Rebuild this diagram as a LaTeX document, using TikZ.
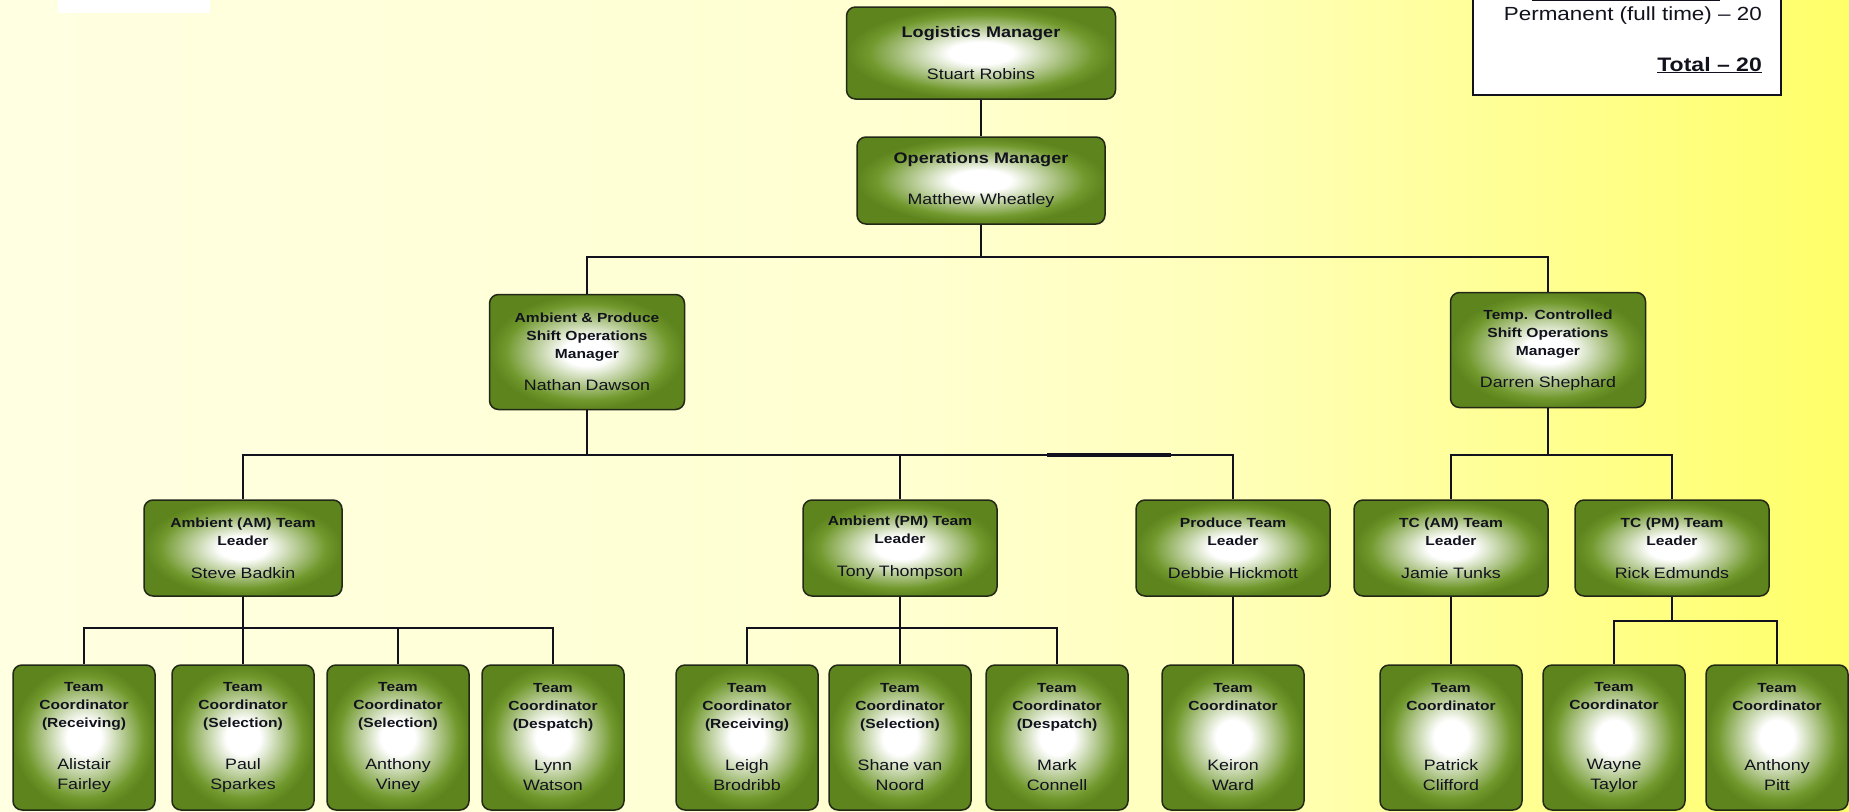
\documentclass[tikz,border=0pt]{standalone}
\usepackage{fontspec}
\setmainfont{Liberation Sans}[FakeStretch=1.18]
\usepackage{xcolor}

\definecolor{ink}{RGB}{18,18,30}
\definecolor{boxedge}{RGB}{34,40,22}
\definecolor{boxgreen}{RGB}{112,152,44}
\definecolor{boxgreendk}{RGB}{94,132,30}
\definecolor{bgpale}{RGB}{255,255,226}
\definecolor{bgmid}{RGB}{255,255,208}
\definecolor{bgwarm}{RGB}{255,255,186}
\definecolor{bgsun}{RGB}{255,255,148}
\definecolor{bgyel}{RGB}{255,255,105}

\pgfdeclareradialshading{glow}{\pgfpoint{0bp}{0bp}}{color(0bp)=(white); color(6bp)=(white); color(21bp)=(boxgreen); color(25bp)=(boxgreendk); color(50bp)=(boxgreendk)}
\pgfdeclarehorizontalshading{bgfade}{100bp}{color(0bp)=(bgpale); color(25bp)=(bgpale); color(50bp)=(bgmid); color(58bp)=(bgwarm); color(66bp)=(bgsun); color(75bp)=(bgyel); color(100bp)=(bgyel)}

\newcommand{\roletxt}{\fontsize{13.2}{18}\selectfont\bfseries}
\newcommand{\bigroletxt}{\fontsize{15.3}{18}\selectfont\bfseries}
\newcommand{\persontxt}{\fontsize{15.1}{20}\selectfont\mdseries}
\newcommand{\who}[2][13pt]{\par\vspace{#1}{\persontxt #2\par}}

\begin{document}
\begin{tikzpicture}[x=1pt, y=-1pt,
    orgbox/.style={draw=boxedge, line width=1.5pt, rounded corners=9pt, shade, shading=glow, align=center, inner sep=0pt, text=ink},
    topbox/.style={orgbox, font=\bigroletxt, text width=240pt},
    mgrbox/.style={orgbox, font=\roletxt, text width=185pt, minimum width=195pt, minimum height=115pt},
    leadbox/.style={orgbox, font=\roletxt, text width=185pt, minimum width=194pt, minimum height=96pt},
    coordbox/.style={orgbox, font=\roletxt, text width=136pt, minimum width=142pt, minimum height=145pt},
    link/.style={draw=ink, line width=1.6pt}]
    \useasboundingbox (0,0) rectangle (1849,811);
    % Background
    \shade[shading=bgfade] (0,0) rectangle (1849,811);
    \fill[white] (58,0) rectangle (210,13);

    % Staff count
    \draw[fill=white, draw=ink, line width=1.3pt] (1473,-4) rectangle (1781,95);
    \draw[ink, line width=1pt] (1532,0.6) -- (1720,0.6);
    \node[anchor=base east, inner sep=0pt, text=ink, font=\fontsize{19}{22}\selectfont] (perm) at (1762,20) {Permanent (full time) – 20};
    \node[anchor=base east, inner sep=0pt, text=ink, font=\fontsize{19.5}{22}\selectfont\bfseries] (total) at (1762,71) {\underline{Total – 20}};

    % Managers
    \node[topbox, minimum width=269pt, minimum height=92pt] (logmgr) at (981,53) {Logistics Manager\who[22pt]{Stuart Robins}};
    \node[topbox, minimum width=248pt, minimum height=87pt] (opsmgr) at (981,180.5) {Operations Manager\who[21pt]{Matthew Wheatley}};

    % Shift operations managers
    \node[mgrbox] (ambmgr) at (587,352) {Ambient \& Produce\\Shift Operations\\Manager\who[12pt]{Nathan Dawson}};
    \node[mgrbox] (tempmgr) at (1548,350) {Temp. Controlled\\Shift Operations\\Manager\who[12pt]{Darren Shephard}};

    % Team leaders
    \node[leadbox, minimum width=198pt] (ambam) at (243,548) {Ambient (AM) Team\\Leader\who{Steve Badkin}};
    \node[leadbox] (ambpm) at (900,548) {Ambient (PM) Team\\Leader\who{Tony Thompson}};
    \node[leadbox] (prodtl) at (1233,548) {Produce Team\\Leader\who{Debbie Hickmott}};
    \node[leadbox] (tcam) at (1451,548) {TC (AM) Team\\Leader\who{Jamie Tunks}};
    \node[leadbox] (tcpm) at (1672,548) {TC (PM) Team\\Leader\who{Rick Edmunds}};

    % Team coordinators
    \node[coordbox] (tc1) at (84,737.5) {Team\\Coordinator\\(Receiving)\who[22pt]{Alistair\\Fairley}};
    \node[coordbox] (tc2) at (243,737.5) {Team\\Coordinator\\(Selection)\who[22pt]{Paul\\Sparkes}};
    \node[coordbox] (tc3) at (398,737.5) {Team\\Coordinator\\(Selection)\who[22pt]{Anthony\\Viney}};
    \node[coordbox] (tc4) at (553,737.5) {Team\\Coordinator\\(Despatch)\who[22pt]{Lynn\\Watson}};
    \node[coordbox] (tc5) at (747,737.5) {Team\\Coordinator\\(Receiving)\who[22pt]{Leigh\\Brodribb}};
    \node[coordbox] (tc6) at (900,737.5) {Team\\Coordinator\\(Selection)\who[22pt]{Shane van\\Noord}};
    \node[coordbox] (tc7) at (1057,737.5) {Team\\Coordinator\\(Despatch)\who[22pt]{Mark\\Connell}};
    \node[coordbox] (tc8) at (1233,737.5) {Team\\Coordinator\who[40pt]{Keiron\\Ward}};
    \node[coordbox] (tc9) at (1451,737.5) {Team\\Coordinator\who[40pt]{Patrick\\Clifford}};
    \node[coordbox] (tc10) at (1614,737.5) {Team\\Coordinator\who[40pt]{Wayne\\Taylor}};
    \node[coordbox] (tc11) at (1777,737.5) {Team\\Coordinator\who[40pt]{Anthony\\Pitt}};

    % Reporting lines
    \draw[link] (logmgr) -- (opsmgr);
    \foreach \sub in {ambmgr,tempmgr}
        \draw[link] (opsmgr.south) -- ++(0,32) -| (\sub.north);
    \foreach \sub in {ambam,ambpm,prodtl}
        \draw[link] (ambmgr.south) -- ++(0,45) -| (\sub.north);
    \draw[link, line width=3.4pt] (1047,455) -- (1171,455);
    \foreach \sub in {tcam,tcpm}
        \draw[link] (tempmgr.south) -- ++(0,47) -| (\sub.north);
    \foreach \sub in {tc1,tc2,tc3,tc4}
        \draw[link] (ambam.south) -- ++(0,31) -| (\sub.north);
    \foreach \sub in {tc5,tc6,tc7}
        \draw[link] (ambpm.south) -- ++(0,31) -| (\sub.north);
    \draw[link] (prodtl) -- (tc8);
    \draw[link] (tcam) -- (tc9);
    \foreach \sub in {tc10,tc11}
        \draw[link] (tcpm.south) -- ++(0,24) -| (\sub.north);
\end{tikzpicture}
\end{document}
